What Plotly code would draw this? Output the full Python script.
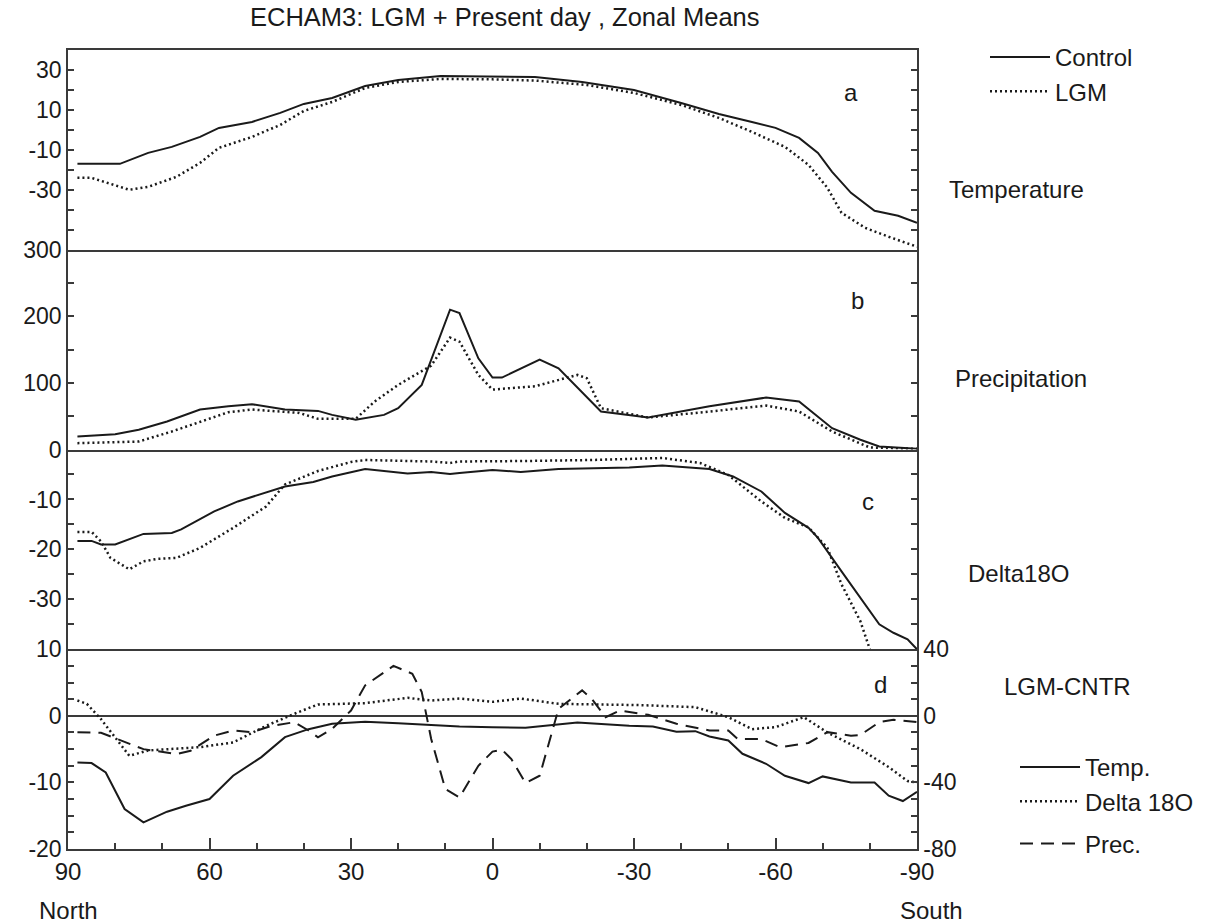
import plotly.graph_objects as go
from plotly.subplots import make_subplots

# ---------------- data ----------------
# Panel a: zonal mean temperature
lat_temp_ctrl = [88, 79, 73, 68, 62, 58, 51, 45, 40, 34, 27, 20, 11, 0, -9, -19, -30, -40, -48, -55, -60, -65, -69, -72, -76, -81, -86, -90]
temp_ctrl = [-17, -17, -11.5, -8.5, -3.5, 1, 4, 8.5, 13, 16, 22, 25, 27, 26.8, 26.5, 24, 20, 13.5, 8, 4, 1, -4, -11.5, -21, -31.5, -40.5, -43, -46.5]
lat_temp_lgm = [88, 85, 77, 73, 67, 62, 58, 51, 45, 40, 34, 27, 20, 11, 0, -9, -20, -30, -40, -48, -55, -62, -67, -71, -74, -79, -84, -90]
temp_lgm = [-24, -24, -30, -28.5, -23.5, -16.5, -9, -3.5, 2.5, 9.5, 14, 21, 24, 25.5, 25.3, 24.7, 22.5, 18.5, 12.5, 6, -1, -8.5, -17.5, -29, -41.5, -49, -53.5, -58.5]

# Panel b: precipitation
lat_prec_ctrl = [88, 80, 75, 69, 62, 56, 51, 44, 37, 34, 29, 23, 20, 15, 9, 7, 3, 0, -2, -10, -14, -23, -33, -46, -58, -65, -72, -78, -82, -90]
prec_ctrl = [19.5, 23, 29.6, 42, 60, 65, 68, 60, 58, 52, 44.6, 52, 62, 97, 210, 205, 137, 108, 108, 135, 122, 57, 48, 65, 78, 72, 32, 14.6, 4.5, 1]
lat_prec_lgm = [88, 75, 68, 62, 56, 51, 41, 37, 29, 25, 20, 13, 9, 7, 3, 0, -9, -18, -20, -23, -33, -46, -58, -65, -72, -80, -90]
prec_lgm = [9.5, 12, 27, 42, 56, 60, 55, 46, 46, 72, 97, 126, 168, 162, 112, 90, 95, 112, 107, 62, 48, 57, 66, 57, 27, 3, 1]

# Panel c: delta 18O
lat_d18_ctrl = [88, 85, 83, 80, 74, 68, 66, 59, 54, 44, 38, 34, 27, 18, 13, 9, 7, 0, -6, -14, -29, -36, -46, -51, -57, -62, -67, -69, -74, -78, -82, -85, -88, -90]
d18_ctrl = [-18.3, -18.3, -19, -19, -16.9, -16.7, -16, -12.4, -10.4, -7.4, -6.5, -5.4, -3.9, -4.8, -4.5, -4.9, -4.7, -4.1, -4.5, -3.9, -3.6, -3.2, -3.9, -5.4, -8.4, -12.7, -15.7, -17.7, -24.4, -29.7, -35, -36.7, -38, -40]
lat_d18_lgm = [88, 85, 83, 81, 77, 74, 71, 67, 62, 55, 48, 44, 37, 30, 27, 13, 9, 7, -7, -21, -36, -44, -50, -57, -62, -67, -71, -74, -78, -80, -84]
d18_lgm = [-16.5, -16.5, -18.4, -21.7, -24, -22.4, -21.9, -21.7, -19.7, -15.7, -11.4, -7, -4.3, -2.5, -2.1, -2.4, -2.7, -2.4, -2.3, -2.1, -1.7, -2.7, -5.1, -10.4, -13.7, -15.6, -19.7, -27, -34.4, -40, -46]

# Panel d: LGM - CNTR differences
lat_dtemp = [88, 85, 82, 78, 74, 69, 65, 60, 55, 49, 44, 39, 34, 27, 20, 13, 7, 0, -7, -18, -29, -34, -39, -43, -46, -50, -53, -58, -62, -67, -70, -76, -81, -84, -87, -90]
dtemp = [-7, -7.1, -8.5, -14, -16, -14.4, -13.5, -12.5, -9, -6.2, -3.2, -2, -1.2, -0.9, -1.1, -1.4, -1.6, -1.7, -1.8, -1, -1.5, -1.6, -2.4, -2.3, -3.1, -3.7, -5.7, -7.2, -9, -10.1, -9.1, -10, -10, -12, -12.8, -11.4]
lat_dd18 = [88, 86, 83, 77, 73, 62, 55, 48, 41, 37, 27, 18, 13, 7, 0, -6, -14, -21, -32, -43, -50, -55, -60, -66, -71, -78, -84, -88, -90]
dd18 = [2.3, 1.8, -0.5, -6, -5.2, -4.7, -4, -1.5, 0.6, 1.7, 1.9, 2.7, 2.3, 2.6, 2.1, 2.6, 1.8, 1.7, 1.6, 1.3, -0.2, -2, -1.7, -0.2, -2.5, -5, -7.7, -9.8, -10]
lat_dprec = [88, 83, 74, 67, 64, 59, 55, 51, 47, 42, 39, 37, 34, 30, 27, 21, 17, 15, 13, 10, 7, 3, 0, -2, -4, -7, -10, -14, -19, -21, -24, -27, -33, -39, -46, -50, -52, -57, -61, -67, -71, -76, -78, -82, -85, -90]
dprec = [-9.8, -10.2, -20, -23, -21, -11.9, -8.8, -9.8, -6.2, -3.8, -8.8, -12.9, -7.8, 3.2, 18.3, 30, 25.3, 14.3, -13.9, -44, -49, -30, -21.5, -20.3, -26, -40.4, -36, 4.2, 15.3, 10.3, -0.8, 3.2, 0.6, -4.8, -8.8, -8.8, -13.9, -13.9, -18.9, -16.3, -9.8, -11.9, -11.5, -3.8, -2.4, -3.8]

# tick labels
x_ticks = [90, 60, 30, 0, -30, -60, -90]
ticks_a = [30, 10, -10, -30]
ticks_b = [0, 100, 200, 300]
ticks_c = [-10, -20, -30]
ticks_d = [10, 0, -10, -20]
ticks_d_right = [40, 0, -40, -80]

# ---------------- figure ----------------
W, H = 1216, 923
ML, MR, MT, MB = 68, 299, 50, 74
PW, PH = W - ML - MR, H - MT - MB

def px(x):
    return (x - ML) / PW

def py(y):
    return (H - MB - y) / PH

FONT = "Liberation Sans, Arial, Helvetica, sans-serif"
INK = "#1a1a1a"
AX = "#3a3a3a"

fig = make_subplots(rows=4, cols=1, shared_xaxes=True, vertical_spacing=0,
                    specs=[[{}], [{}], [{}], [{"secondary_y": True}]])

dot = "2px,3px"
dash = "13px,8px"

fig.add_trace(go.Scatter(x=lat_temp_ctrl, y=temp_ctrl, mode="lines", name="Control",
                         line=dict(color=INK, width=2), legend="legend"), row=1, col=1)
fig.add_trace(go.Scatter(x=lat_temp_lgm, y=temp_lgm, mode="lines", name="LGM",
                         line=dict(color=INK, width=2.5, dash=dot), legend="legend"), row=1, col=1)
fig.add_trace(go.Scatter(x=lat_prec_ctrl, y=prec_ctrl, mode="lines", showlegend=False,
                         line=dict(color=INK, width=2)), row=2, col=1)
fig.add_trace(go.Scatter(x=lat_prec_lgm, y=prec_lgm, mode="lines", showlegend=False,
                         line=dict(color=INK, width=2.5, dash=dot)), row=2, col=1)
fig.add_trace(go.Scatter(x=lat_d18_ctrl, y=d18_ctrl, mode="lines", showlegend=False,
                         line=dict(color=INK, width=2)), row=3, col=1)
fig.add_trace(go.Scatter(x=lat_d18_lgm, y=d18_lgm, mode="lines", showlegend=False,
                         line=dict(color=INK, width=2.5, dash=dot)), row=3, col=1)
fig.add_trace(go.Scatter(x=lat_dtemp, y=dtemp, mode="lines", name="Temp.",
                         line=dict(color=INK, width=2), legend="legend2", legendgroup="g1"),
              row=4, col=1, secondary_y=False)
fig.add_trace(go.Scatter(x=lat_dd18, y=dd18, mode="lines", name="Delta 18O",
                         line=dict(color=INK, width=2.5, dash=dot), legend="legend2", legendgroup="g1"),
              row=4, col=1, secondary_y=False)
fig.add_trace(go.Scatter(x=lat_dprec, y=dprec, mode="lines", name="Prec.",
                         line=dict(color=INK, width=2, dash=dash), legend="legend2", legendgroup="g2"),
              row=4, col=1, secondary_y=True)

tickfont = dict(family=FONT, size=23, color=INK)

# x axes: only the top panel mirrors its line to the top; the others draw their bottom line
for r in (1, 2, 3):
    fig.update_xaxes(row=r, col=1, domain=[0, 1], range=[90, -90], showline=True, linecolor=AX,
                     linewidth=1.5, mirror=(r == 1), ticks="", showticklabels=False, showgrid=False,
                     zeroline=False)
fig.update_xaxes(row=4, col=1, domain=[0, 1], range=[90, -90], showline=True, linecolor=AX, linewidth=1.5,
                 mirror=False, ticks="inside", ticklen=11, tickwidth=1.5, tickcolor=AX,
                 tickmode="array", tickvals=x_ticks, ticktext=[str(v) for v in x_ticks],
                 minor=dict(dtick=10, tick0=0, ticks="inside", ticklen=6, tickwidth=1.5, tickcolor=AX),
                 showticklabels=True, tickfont=dict(family=FONT, size=24, color=INK),
                 showgrid=False, zeroline=False)

def ystyle(rng, vals, minor_dtick):
    return dict(range=rng, showline=True, linecolor=AX, linewidth=1.5, mirror="ticks",
                ticks="inside", ticklen=6, tickwidth=1.5, tickcolor=AX,
                tickmode="array", tickvals=vals, ticktext=[str(v) for v in vals],
                minor=dict(dtick=minor_dtick, tick0=0, ticks="inside", ticklen=6, tickwidth=1.5, tickcolor=AX),
                tickfont=tickfont, showgrid=False, zeroline=False)

fig.update_yaxes(row=1, col=1, **ystyle([-60, 40], ticks_a, 10))
fig.update_yaxes(row=2, col=1, **ystyle([0, 300], ticks_b, 50))
fig.update_yaxes(row=3, col=1, **ystyle([-40, 0], ticks_c, 5))
d_style = ystyle([-20, 10], ticks_d, 2.5)
d_style["mirror"] = True
fig.update_yaxes(row=4, col=1, secondary_y=False, **d_style)
fig.update_yaxes(row=4, col=1, secondary_y=False, zeroline=True, zerolinecolor=AX, zerolinewidth=1.5)
fig.update_yaxes(row=4, col=1, secondary_y=True, range=[-80, 40], showline=True, linecolor=AX,
                 linewidth=1.5, ticks="inside", ticklen=6, tickwidth=1.5, tickcolor=AX,
                 tickmode="array", tickvals=ticks_d_right, ticktext=[str(v) for v in ticks_d_right],
                 minor=dict(dtick=10, tick0=0, ticks="inside", ticklen=6, tickwidth=1.5, tickcolor=AX),
                 tickfont=tickfont, showgrid=False, zeroline=False)

def note(text, x, y, size=24, xanchor="left"):
    fig.add_annotation(text=text, x=px(x), y=py(y), xref="paper", yref="paper",
                       xanchor=xanchor, yanchor="middle", showarrow=False,
                       font=dict(family=FONT, size=size, color=INK))

note("ECHAM3: LGM + Present day , Zonal Means", 505, 17, size=25.5, xanchor="center")
note("Temperature", 947, 189)
note("Precipitation", 953, 378)
note("Delta18O", 966, 573)
note("LGM-CNTR", 1002, 686)
note("a", 851, 92, xanchor="center")
note("b", 857, 300, xanchor="center")
note("c", 868, 502, xanchor="center")
note("d", 880, 684, xanchor="center")
note("North", 68, 910, xanchor="center")
note("South", 932, 910, xanchor="center")

fig.update_layout(
    width=W, height=H,
    margin=dict(l=ML, r=MR, t=MT, b=MB),
    paper_bgcolor="white", plot_bgcolor="white",
    font=dict(family=FONT, size=24, color=INK),
    legend=dict(x=px(985), y=py(35), xanchor="left", yanchor="top",
                font=dict(family=FONT, size=24, color=INK), bgcolor="rgba(0,0,0,0)",
                itemwidth=60, tracegroupgap=0),
    legend2=dict(x=px(1015), y=py(745), xanchor="left", yanchor="top",
                 font=dict(family=FONT, size=24, color=INK), bgcolor="rgba(0,0,0,0)",
                 itemwidth=60, tracegroupgap=8),
)

fig.write_html("out.html")
